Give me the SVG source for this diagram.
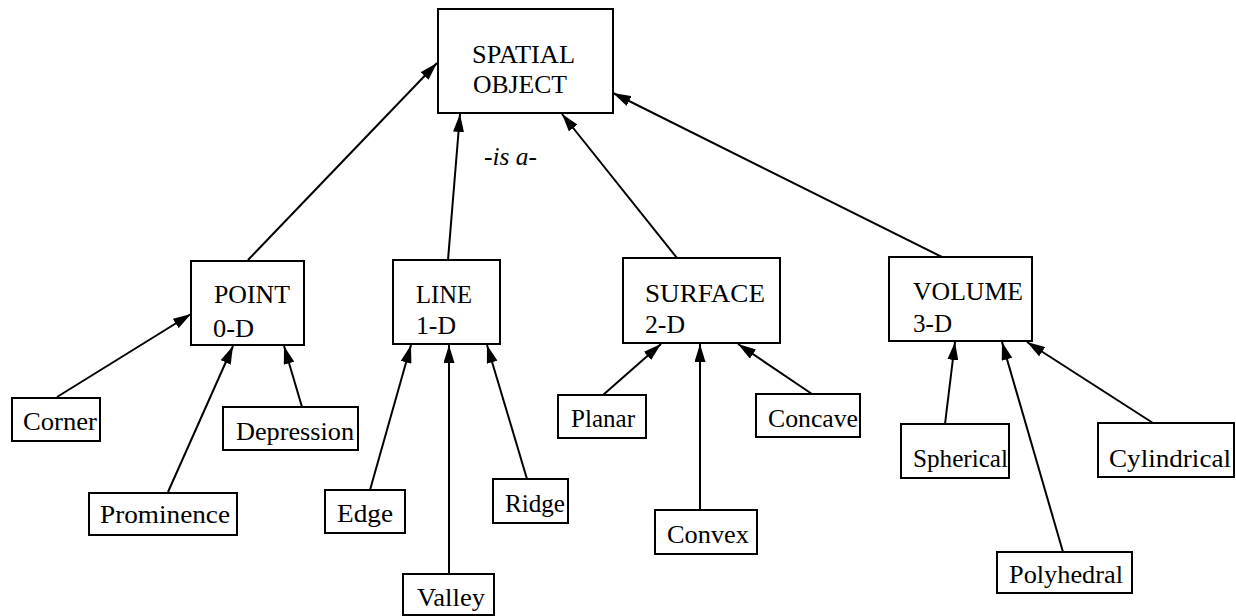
<svg xmlns="http://www.w3.org/2000/svg" width="1236" height="616" viewBox="0 0 1236 616">
<style>
rect{fill:#fff;stroke:#000;stroke-width:2}
text{font-family:"Liberation Serif","Times New Roman",serif;font-size:26px;fill:#000}
.it{font-style:italic;font-size:25px}
.c line{stroke:#000;stroke-width:2;marker-end:url(#ah)}
</style>
<defs>
<marker id="ah" viewBox="0 0 18 11" refX="18" refY="5.5" markerWidth="18" markerHeight="11" markerUnits="userSpaceOnUse" orient="auto">
<path d="M0,0 L18,5.5 L0,11 Z" fill="#000"/>
</marker>
</defs>
<g class="c" id="connectors">
<line x1="248" y1="260" x2="437" y2="63"/>
<line x1="448" y1="260" x2="460" y2="114"/>
<line x1="677" y1="258" x2="562" y2="114"/>
<line x1="942" y1="257" x2="613" y2="93"/>
<line x1="57" y1="397" x2="191" y2="314"/>
<line x1="168" y1="492" x2="233" y2="346"/>
<line x1="302" y1="407" x2="284" y2="346"/>
<line x1="370" y1="490" x2="411" y2="345"/>
<line x1="449" y1="574" x2="449" y2="345"/>
<line x1="527" y1="479" x2="487" y2="345"/>
<line x1="603" y1="395" x2="661" y2="344"/>
<line x1="700" y1="510" x2="700" y2="344"/>
<line x1="812" y1="394" x2="738" y2="344"/>
<line x1="945" y1="424" x2="955" y2="342"/>
<line x1="1063" y1="552" x2="1002" y2="342"/>
<line x1="1153" y1="423" x2="1027" y2="342"/>
</g>
<text class="it" x="484" y="165" textLength="53" lengthAdjust="spacingAndGlyphs">-is a-</text>
<g id="spatial"><rect x="438" y="9" width="175" height="104"/><text x="472" y="63" textLength="103" lengthAdjust="spacingAndGlyphs">SPATIAL</text><text x="473" y="93" textLength="94" lengthAdjust="spacingAndGlyphs">OBJECT</text></g>
<g id="point"><rect x="191" y="261" width="113" height="84"/><text x="214" y="303" textLength="76" lengthAdjust="spacingAndGlyphs">POINT</text><text x="213" y="337" textLength="41" lengthAdjust="spacingAndGlyphs">0-D</text></g>
<g id="line"><rect x="393" y="260" width="107" height="84"/><text x="416" y="303" textLength="56" lengthAdjust="spacingAndGlyphs">LINE</text><text x="416" y="334" textLength="40" lengthAdjust="spacingAndGlyphs">1-D</text></g>
<g id="surface"><rect x="623" y="258" width="157" height="85"/><text x="645" y="302" textLength="120" lengthAdjust="spacingAndGlyphs">SURFACE</text><text x="645" y="333" textLength="40" lengthAdjust="spacingAndGlyphs">2-D</text></g>
<g id="volume"><rect x="889" y="257" width="143" height="84"/><text x="913" y="300" textLength="110" lengthAdjust="spacingAndGlyphs">VOLUME</text><text x="913" y="332" textLength="39" lengthAdjust="spacingAndGlyphs">3-D</text></g>
<g id="corner"><rect x="12" y="398" width="88" height="43"/><text x="23" y="430" textLength="74" lengthAdjust="spacingAndGlyphs">Corner</text></g>
<g id="depression"><rect x="223" y="407" width="135" height="43"/><text x="236" y="440" textLength="118" lengthAdjust="spacingAndGlyphs">Depression</text></g>
<g id="prominence"><rect x="89" y="493" width="148" height="42"/><text x="100" y="523" textLength="130" lengthAdjust="spacingAndGlyphs">Prominence</text></g>
<g id="edge"><rect x="325" y="490" width="80" height="43"/><text x="337" y="522" textLength="56" lengthAdjust="spacingAndGlyphs">Edge</text></g>
<g id="valley"><rect x="403" y="574" width="91" height="41"/><text x="417" y="606" textLength="68" lengthAdjust="spacingAndGlyphs">Valley</text></g>
<g id="ridge"><rect x="493" y="479" width="75" height="44"/><text x="505" y="512" textLength="60" lengthAdjust="spacingAndGlyphs">Ridge</text></g>
<g id="planar"><rect x="558" y="395" width="88" height="43"/><text x="571" y="427" textLength="64" lengthAdjust="spacingAndGlyphs">Planar</text></g>
<g id="concave"><rect x="756" y="394" width="104" height="43"/><text x="768" y="427" textLength="90" lengthAdjust="spacingAndGlyphs">Concave</text></g>
<g id="convex"><rect x="655" y="510" width="102" height="44"/><text x="667" y="543" textLength="82" lengthAdjust="spacingAndGlyphs">Convex</text></g>
<g id="spherical"><rect x="901" y="424" width="108" height="54"/><text x="913" y="467" textLength="95" lengthAdjust="spacingAndGlyphs">Spherical</text></g>
<g id="cylindrical"><rect x="1098" y="423" width="136" height="54"/><text x="1109" y="467" textLength="122" lengthAdjust="spacingAndGlyphs">Cylindrical</text></g>
<g id="polyhedral"><rect x="997" y="552" width="135" height="41"/><text x="1009" y="583" textLength="114" lengthAdjust="spacingAndGlyphs">Polyhedral</text></g>
</svg>
